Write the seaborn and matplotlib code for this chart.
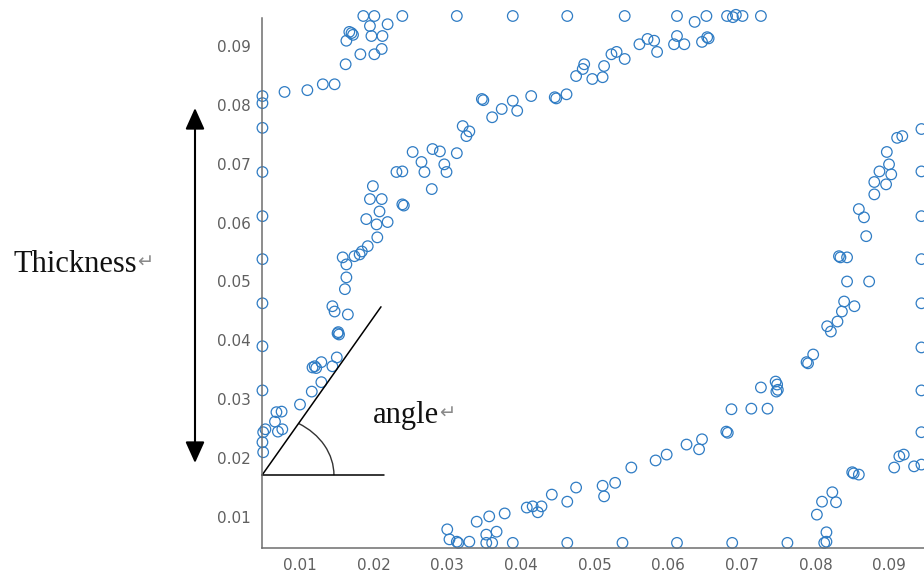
import numpy as np
import pandas as pd
import matplotlib
matplotlib.use('Agg')
import matplotlib.pyplot as plt
import seaborn as sns
from matplotlib.patches import Arc

# 값은 그림에서 읽은 좌표 (호 별로 나눔)
left_edge_x = [0.0049, 0.0049, 0.0049, 0.0049, 0.0049, 0.0049, 0.0049, 0.0049, 0.0049, 0.0050, 0.0049, 0.0050]
left_edge_y = [0.0815, 0.0803, 0.0761, 0.0686, 0.0611, 0.0538, 0.0463, 0.0390, 0.0315, 0.0244, 0.0227, 0.0210]

top_left_x = [0.0079, 0.0110, 0.0131, 0.0147, 0.0162, 0.0163, 0.0170, 0.0167, 0.0172, 0.0182,
              0.0186, 0.0195, 0.0197, 0.0201, 0.0201, 0.0211, 0.0212, 0.0219, 0.0239]
top_left_y = [0.0822, 0.0825, 0.0835, 0.0835, 0.0869, 0.0909, 0.0922, 0.0924, 0.0919, 0.0886,
              0.0951, 0.0934, 0.0917, 0.0951, 0.0886, 0.0895, 0.0917, 0.0937, 0.0951]

top_row_x = [0.0313, 0.0389, 0.0463, 0.0541, 0.0612, 0.0636, 0.0652, 0.0680, 0.0688, 0.0692, 0.0701, 0.0726]
top_row_y = [0.0951, 0.0951, 0.0951, 0.0951, 0.0951, 0.0941, 0.0951, 0.0951, 0.0949, 0.0953, 0.0951, 0.0951]

main_arc_x = [0.0068, 0.0075, 0.0066, 0.0070, 0.0076, 0.0053, 0.0100, 0.0116, 0.0129, 0.0120,
              0.0122, 0.0129, 0.0144, 0.0150, 0.0151, 0.0153, 0.0147, 0.0144, 0.0165, 0.0161,
              0.0163, 0.0163, 0.0158, 0.0174, 0.0181, 0.0184, 0.0192, 0.0205, 0.0190, 0.0204,
              0.0219, 0.0208, 0.0195, 0.0211, 0.0199, 0.0239, 0.0241, 0.0231, 0.0239, 0.0253,
              0.0265, 0.0269, 0.0279, 0.0280, 0.0290, 0.0296, 0.0299, 0.0313, 0.0321, 0.0330,
              0.0326, 0.0347, 0.0349, 0.0361, 0.0374, 0.0389, 0.0395, 0.0414, 0.0446, 0.0448,
              0.0462, 0.0475, 0.0484, 0.0486, 0.0497, 0.0511, 0.0513, 0.0523, 0.0530, 0.0541,
              0.0561, 0.0572, 0.0581, 0.0585, 0.0608, 0.0612, 0.0622, 0.0646, 0.0653, 0.0655,
              0.0117, 0.0152]
main_arc_y = [0.0278, 0.0279, 0.0262, 0.0245, 0.0249, 0.0249, 0.0291, 0.0313, 0.0329, 0.0356,
              0.0353, 0.0363, 0.0356, 0.0371, 0.0412, 0.0410, 0.0449, 0.0458, 0.0444, 0.0487,
              0.0507, 0.0529, 0.0541, 0.0543, 0.0546, 0.0551, 0.0560, 0.0575, 0.0606, 0.0597,
              0.0601, 0.0619, 0.0640, 0.0640, 0.0662, 0.0631, 0.0629, 0.0686, 0.0687, 0.0720,
              0.0703, 0.0686, 0.0657, 0.0725, 0.0721, 0.0699, 0.0686, 0.0718, 0.0764, 0.0755,
              0.0747, 0.0810, 0.0808, 0.0779, 0.0793, 0.0807, 0.0790, 0.0815, 0.0813, 0.0811,
              0.0818, 0.0849, 0.0861, 0.0869, 0.0844, 0.0847, 0.0866, 0.0886, 0.0890, 0.0878,
              0.0903, 0.0912, 0.0909, 0.0890, 0.0903, 0.0917, 0.0903, 0.0907, 0.0915, 0.0913,
              0.0354, 0.0414]

bottom_arc_x = [0.0300, 0.0303, 0.0313, 0.0315, 0.0330, 0.0340, 0.0353, 0.0357, 0.0367, 0.0353,
                0.0361, 0.0378, 0.0389, 0.0408, 0.0416, 0.0423, 0.0428, 0.0442, 0.0463, 0.0463,
                0.0475, 0.0511, 0.0513, 0.0528, 0.0538, 0.0550, 0.0583, 0.0598, 0.0612, 0.0625,
                0.0642, 0.0646, 0.0679, 0.0681, 0.0686, 0.0687, 0.0713, 0.0735, 0.0726, 0.0748,
                0.0747, 0.0746, 0.0762, 0.0788, 0.0790, 0.0797, 0.0749]
bottom_arc_y = [0.0079, 0.0062, 0.0058, 0.0056, 0.0058, 0.0092, 0.0070, 0.0101, 0.0075, 0.0056,
                0.0056, 0.0106, 0.0056, 0.0116, 0.0118, 0.0108, 0.0118, 0.0138, 0.0126, 0.0056,
                0.0150, 0.0153, 0.0135, 0.0158, 0.0056, 0.0184, 0.0196, 0.0206, 0.0056, 0.0223,
                0.0215, 0.0232, 0.0245, 0.0243, 0.0283, 0.0056, 0.0284, 0.0284, 0.0320, 0.0325,
                0.0313, 0.0330, 0.0056, 0.0363, 0.0361, 0.0376, 0.0316]

right_arc_x = [0.0812, 0.0815, 0.0815, 0.0802, 0.0809, 0.0823, 0.0828, 0.0850, 0.0852, 0.0859,
               0.0816, 0.0821, 0.0830, 0.0836, 0.0839, 0.0853, 0.0843, 0.0873, 0.0832, 0.0834,
               0.0843, 0.0869, 0.0859, 0.0866, 0.0880, 0.0880, 0.0896, 0.0887, 0.0903, 0.0897,
               0.0900, 0.0911, 0.0918, 0.0907, 0.0914, 0.0920, 0.0934]
right_arc_y = [0.0056, 0.0074, 0.0058, 0.0104, 0.0126, 0.0142, 0.0125, 0.0176, 0.0174, 0.0172,
               0.0424, 0.0415, 0.0432, 0.0449, 0.0466, 0.0458, 0.0500, 0.0500, 0.0543, 0.0541,
               0.0541, 0.0577, 0.0623, 0.0609, 0.0669, 0.0648, 0.0665, 0.0687, 0.0682, 0.0720,
               0.0699, 0.0744, 0.0747, 0.0184, 0.0203, 0.0206, 0.0186]

right_edge_x = [0.0944, 0.0944, 0.0944, 0.0944, 0.0944, 0.0944, 0.0944, 0.0944, 0.0944]
right_edge_y = [0.0759, 0.0687, 0.0611, 0.0538, 0.0463, 0.0388, 0.0315, 0.0244, 0.0189]

x_ticks = [0.01, 0.02, 0.03, 0.04, 0.05, 0.06, 0.07, 0.08, 0.09]
y_ticks = [0.01, 0.02, 0.03, 0.04, 0.05, 0.06, 0.07, 0.08, 0.09]

# 각도 표시용 선 (데이터 좌표)
angle_vertex = (0.00484, 0.0171)
angle_horiz_end = (0.0214, 0.0171)
angle_diag_end = (0.0210, 0.0457)

df = pd.concat([
    pd.DataFrame({'x': left_edge_x, 'y': left_edge_y}),
    pd.DataFrame({'x': top_left_x, 'y': top_left_y}),
    pd.DataFrame({'x': top_row_x, 'y': top_row_y}),
    pd.DataFrame({'x': main_arc_x, 'y': main_arc_y}),
    pd.DataFrame({'x': bottom_arc_x, 'y': bottom_arc_y}),
    pd.DataFrame({'x': right_arc_x, 'y': right_arc_y}),
    pd.DataFrame({'x': right_edge_x, 'y': right_edge_y}),
], ignore_index=True)

sns.set_style('white')
plt.rcParams['font.family'] = ['DejaVu Sans']

fig = plt.figure(figsize=(9.24, 5.73), dpi=100)
ax = fig.add_axes([262 / 924, 25 / 573, 662 / 924, 530 / 573])

sns.scatterplot(data=df, x='x', y='y', ax=ax, marker='o', s=58,
                facecolor='none', edgecolor='#2f7cc4', linewidth=0.9,
                clip_on=False, legend=False)

ax.set_xlim(0.00484, 0.09475)
ax.set_ylim(0.00473, 0.09476)
ax.set_xticks(x_ticks)
ax.set_yticks(y_ticks)
ax.set_xticklabels([f'{v:.2f}' for v in x_ticks])
ax.set_yticklabels([f'{v:.2f}' for v in y_ticks])
ax.set_xlabel('')
ax.set_ylabel('')
for side in ['top', 'right']:
    ax.spines[side].set_visible(False)
for side in ['left', 'bottom']:
    ax.spines[side].set_color('#6e6e6e')
    ax.spines[side].set_linewidth(1.1)
ax.tick_params(axis='both', direction='in', length=3, width=0.8, color='#6e6e6e',
               labelsize=11, labelcolor='#606060')
ax.tick_params(axis='y', pad=8)
ax.tick_params(axis='x', pad=7)

# 각도 표시
ax.plot([angle_vertex[0], angle_horiz_end[0]], [angle_vertex[1], angle_horiz_end[1]],
        color='black', lw=1.1, clip_on=False)
ax.plot([angle_vertex[0], angle_diag_end[0]], [angle_vertex[1], angle_diag_end[1]],
        color='black', lw=1.1, clip_on=False)
diag_deg = np.degrees(np.arctan2(angle_diag_end[1] - angle_vertex[1], angle_diag_end[0] - angle_vertex[0]))
ax.add_patch(Arc(angle_vertex, width=0.01954, height=0.0204, theta1=0, theta2=diag_deg,
                 color='#333333', lw=1.0))

serif = ['Liberation Serif', 'DejaVu Serif']
t1 = fig.text(13 / 924, 1 - 272 / 573, 'Thickness', ha='left', va='baseline',
              fontsize=22, family=serif, color='#111111')
ax.annotate('\u21b5', xy=(1, 0), xycoords=t1, xytext=(0, 5), textcoords='offset points',
            ha='left', va='bottom', fontsize=14, color='#8a8a8a', family=['DejaVu Sans'],
            annotation_clip=False)
t2 = fig.text(373 / 924, 1 - 423 / 573, 'angle', ha='left', va='baseline',
              fontsize=22, family=serif, color='#111111')
ax.annotate('\u21b5', xy=(1, 0), xycoords=t2, xytext=(0, 5), textcoords='offset points',
            ha='left', va='bottom', fontsize=14, color='#8a8a8a', family=['DejaVu Sans'],
            annotation_clip=False)

# 두께 화살표
ax.annotate('', xy=(195 / 924, 1 - 108 / 573), xytext=(195 / 924, 1 - 463 / 573),
            xycoords='figure fraction', textcoords='figure fraction',
            arrowprops=dict(arrowstyle='<|-|>,head_length=1.0,head_width=0.45',
                            mutation_scale=13, color='black', lw=1.5,
                            shrinkA=0, shrinkB=0),
            annotation_clip=False)

fig.savefig('out.png', dpi=100)
